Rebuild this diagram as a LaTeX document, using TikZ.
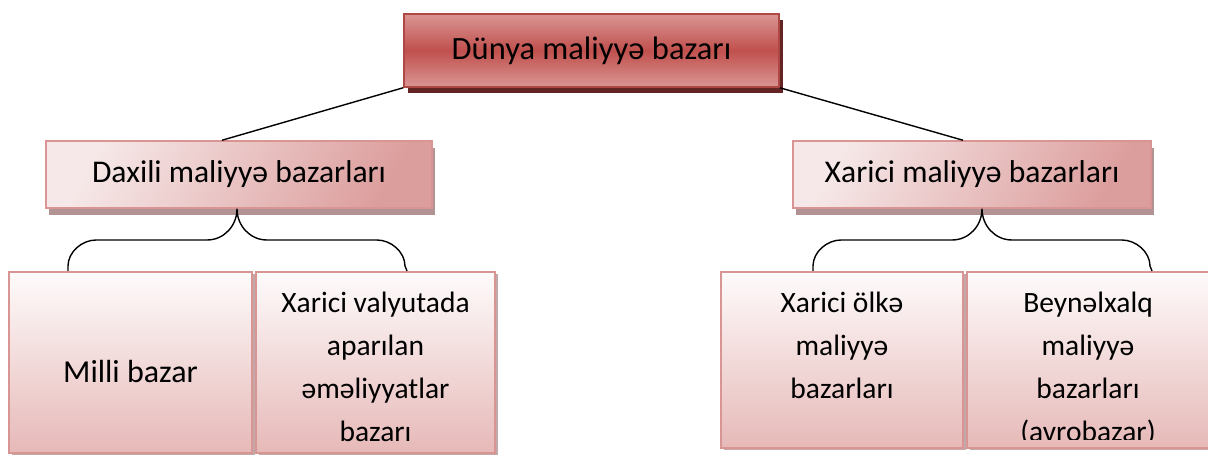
\documentclass[tikz,border=0pt]{standalone}
\usepackage{fontspec}
\setmainfont{Carlito}
\usepackage{tikz}
\usetikzlibrary{positioning,shadows}
\definecolor{topred}{HTML}{C0504D}
\definecolor{toppink}{HTML}{DA9694}
\definecolor{topshadow}{HTML}{632423}
\definecolor{midpink}{HTML}{DC9E9D}
\definecolor{midlight}{HTML}{F6E8E8}
\definecolor{midshadow}{HTML}{B09392}
\definecolor{cellline}{HTML}{D99594}
\definecolor{celllow}{HTML}{E6B9B8}
\definecolor{celltop}{HTML}{FEFBFB}

\begin{document}
\begin{tikzpicture}[
        x=1pt, y=-1pt,
        every node/.style={
            rectangle,
            align=center,
            inner sep=0pt,
            text=black
        },
        topbox/.style={
            draw=topred!90!black,
            line width=1.5pt,
            top color=toppink,
            bottom color=toppink,
            middle color=topred,
            general shadow={fill=topshadow, shadow xshift=4pt, shadow yshift=-6pt},
            minimum width=375pt,
            minimum height=73pt,
            font=\fontsize{32.5}{38}\selectfont
        },
        midbox/.style={
            draw=cellline,
            line width=1.5pt,
            left color=midlight,
            right color=midpink,
            shading angle=60,
            general shadow={fill=midshadow, shadow xshift=3pt, shadow yshift=-7pt},
            minimum height=67pt,
            font=\fontsize{31.6}{36}\selectfont
        },
        cell/.style={
            draw=cellline,
            line width=2pt,
            top color=celltop,
            bottom color=celllow,
            general shadow={fill=midshadow!80, shadow xshift=3pt, shadow yshift=-2pt},
            minimum height=181pt
        },
        celltext/.style={
            font=\fontsize{29.5}{43}\selectfont
        },
        link/.style={
            black,
            line width=1.4pt
        },
        brace/.style={
            black,
            line width=1.4pt
        }
    ]
        \useasboundingbox (0,0) rectangle (1208,457);

        \node (dunya) [topbox] at (591.5,50.5) {Dünya maliyyə bazarı};
        \node (daxili) [midbox, minimum width=386pt] at (239,174.5) {Daxili maliyyə bazarları};
        \node (xarici) [midbox, minimum width=358pt] at (972,174.5) {Xarici maliyyə bazarları};

        % lower cells
        \node (milli) [cell, minimum width=243pt] at (130.5,362.5) {};
        \node (valyuta) [cell, minimum width=239pt, right=2pt of milli] {};
        \node (olke) [cell, minimum width=242pt, minimum height=176pt] at (842,360) {};
        \node (beyn) [cell, minimum width=242pt, minimum height=176pt, right=2pt of olke] {};

        \node (millitxt) [celltext, font=\fontsize{32}{43}\selectfont] at ([yshift=-9pt]milli.center) {Milli bazar};
        \node (valyutatxt) [celltext, below=21pt of valyuta.north] {Xarici valyutada\\aparılan\\əməliyyatlar\\bazarı};
        \node (olketxt) [celltext, below=21pt of olke.north] {Xarici ölkə\\maliyyə\\bazarları};
        \begin{scope}
            \clip (beyn.north west) rectangle ([yshift=10pt]beyn.south east);
            \node (beyntxt) [celltext, below=21pt of beyn.north] {Beynəlxalq\\maliyyə\\bazarları\\(avrobazar)};
        \end{scope}

        \draw[link] (dunya.south west) -- ([xshift=-17pt]daxili.north);
        \draw[link] (dunya.south east) -- ([xshift=-9pt]xarici.north);

        % braces
        \coordinate (bl) at ([xshift=-62.5pt]milli.north);
        \coordinate (br) at ([xshift=31.5pt]valyuta.north);
        \coordinate (cl) at ([xshift=-29pt]olke.north);
        \coordinate (cr) at ([xshift=64pt]beyn.north);
        \draw[brace] (bl) -- (68,266) .. controls +(0,-14) and +(-14,0) .. (96,240) -- (207,240)
            .. controls +(17,0) and +(0,17) .. ([xshift=-2pt]daxili.south)
            .. controls +(0,17) and +(-17,0) .. (267,240) -- (377,240)
            .. controls +(14,0) and +(0,-14) .. (405,266) -- (br);
        \draw[brace] (cl) -- (813,266) .. controls +(0,-14) and +(-14,0) .. (841,240) -- (952,240)
            .. controls +(17,0) and +(0,17) .. ([xshift=10pt]xarici.south)
            .. controls +(0,17) and +(-17,0) .. (1012,240) -- (1122,240)
            .. controls +(14,0) and +(0,-14) .. (1150,266) -- (cr);
    \end{tikzpicture}
\end{document}
